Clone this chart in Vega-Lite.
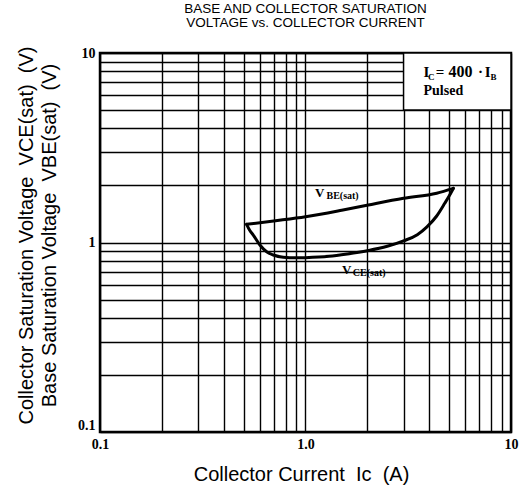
{
  "$schema": "https://vega.github.io/schema/vega-lite/v6.json",
  "width": 411,
  "height": 379,
  "autosize": {"type": "none"},
  "padding": {"left": 100, "top": 53, "right": 17, "bottom": 60},
  "background": "white",
  "config": {
    "view": {"stroke": "black", "strokeWidth": 2.5},
    "text": {"font": "Liberation Serif", "fontWeight": "bold", "color": "black", "align": "left", "baseline": "alphabetic"}
  },
  "title": {
    "text": ["BASE AND COLLECTOR SATURATION", "VOLTAGE vs. COLLECTOR CURRENT"],
    "font": "Liberation Sans",
    "fontSize": 13.5,
    "fontWeight": "normal",
    "lineHeight": 14,
    "offset": 17,
    "anchor": "middle",
    "color": "black"
  },
  "layer": [
    {
      "data": {
        "values": [
          {"series": "VBE", "i": 1, "ic": 0.517, "v": 1.247},
          {"series": "VBE", "i": 2, "ic": 0.7, "v": 1.3},
          {"series": "VBE", "i": 3, "ic": 1.0, "v": 1.368},
          {"series": "VBE", "i": 4, "ic": 1.5, "v": 1.48},
          {"series": "VBE", "i": 5, "ic": 2.02, "v": 1.577},
          {"series": "VBE", "i": 6, "ic": 3.0, "v": 1.71},
          {"series": "VBE", "i": 7, "ic": 4.35, "v": 1.82},
          {"series": "VBE", "i": 8, "ic": 5.24, "v": 1.93},
          {"series": "VCE", "i": 1, "ic": 0.517, "v": 1.247},
          {"series": "VCE", "i": 2, "ic": 0.535, "v": 1.16},
          {"series": "VCE", "i": 3, "ic": 0.557, "v": 1.095},
          {"series": "VCE", "i": 4, "ic": 0.6, "v": 0.97},
          {"series": "VCE", "i": 5, "ic": 0.647, "v": 0.894},
          {"series": "VCE", "i": 6, "ic": 0.697, "v": 0.859},
          {"series": "VCE", "i": 7, "ic": 0.78, "v": 0.836},
          {"series": "VCE", "i": 8, "ic": 0.9, "v": 0.83},
          {"series": "VCE", "i": 9, "ic": 1.0, "v": 0.832},
          {"series": "VCE", "i": 10, "ic": 1.3, "v": 0.845},
          {"series": "VCE", "i": 11, "ic": 1.6, "v": 0.87},
          {"series": "VCE", "i": 12, "ic": 2.0, "v": 0.905},
          {"series": "VCE", "i": 13, "ic": 2.5, "v": 0.955},
          {"series": "VCE", "i": 14, "ic": 3.0, "v": 1.02},
          {"series": "VCE", "i": 15, "ic": 3.5, "v": 1.1},
          {"series": "VCE", "i": 16, "ic": 3.9, "v": 1.21},
          {"series": "VCE", "i": 17, "ic": 4.35, "v": 1.38},
          {"series": "VCE", "i": 18, "ic": 4.76, "v": 1.61},
          {"series": "VCE", "i": 19, "ic": 5.0, "v": 1.76},
          {"series": "VCE", "i": 20, "ic": 5.24, "v": 1.93}
        ]
      },
      "mark": {"type": "line", "color": "black", "strokeWidth": 3, "interpolate": "monotone", "strokeCap": "round", "strokeJoin": "round"},
      "encoding": {
        "x": {
          "field": "ic", "type": "quantitative",
          "scale": {"type": "log", "domain": [0.1, 10], "nice": false},
          "axis": {
            "values": [0.1, 0.2, 0.3, 0.4, 0.5, 0.6, 0.7, 0.8, 0.9, 1, 2, 3, 4, 5, 6, 7, 8, 9, 10],
            "grid": true, "gridColor": "black", "gridWidth": 1.4, "gridOpacity": 1,
            "ticks": false, "domain": false,
            "labelExpr": "datum.value == 1 ? '1.0' : (datum.value == 0.1 ? '0.1' : (datum.value == 10 ? '10' : ''))",
            "labelFont": "Liberation Serif", "labelFontWeight": "bold", "labelFontSize": 14, "labelColor": "black",
            "labelPadding": 5, "labelFlush": false, "labelOverlap": false, "labelBound": false,
            "title": "Collector Current\u00a0\u00a0Ic\u00a0\u00a0(A)",
            "titleFont": "Liberation Sans", "titleFontSize": 20, "titleFontWeight": "normal", "titleColor": "black",
            "titleX": 201, "titleY": 48, "titleBaseline": "alphabetic", "titleAlign": "center"
          }
        },
        "y": {
          "field": "v", "type": "quantitative",
          "scale": {"type": "log", "domain": [0.1, 10], "nice": false},
          "axis": {
            "values": [0.1, 0.2, 0.3, 0.4, 0.5, 0.6, 0.7, 0.8, 0.9, 1, 2, 3, 4, 5, 6, 7, 8, 9, 10],
            "grid": true, "gridColor": "black", "gridWidth": 1.4, "gridOpacity": 1,
            "ticks": false, "domain": false,
            "labelExpr": "datum.value == 1 ? '1' : (datum.value == 0.1 ? '0.1' : (datum.value == 10 ? '10' : ''))",
            "labelFont": "Liberation Serif", "labelFontWeight": "bold", "labelFontSize": 14, "labelColor": "black",
            "labelPadding": 5, "labelFlush": false, "labelOverlap": false, "labelBound": false,
            "labelBaseline": {"condition": {"test": "datum.value < 0.15", "value": "bottom"}, "value": "middle"},
            "title": ["Collector Saturation Voltage\u00a0\u00a0VCE(sat)\u00a0\u00a0(V)", "Base Saturation Voltage\u00a0\u00a0VBE(sat)\u00a0\u00a0(V)"],
            "titleFont": "Liberation Sans", "titleFontSize": 20, "titleFontWeight": "normal", "titleColor": "black",
            "titleAngle": -90, "titleX": -68, "titleY": 182, "titleBaseline": "alphabetic", "titleAlign": "center", "titleLineHeight": 23
          }
        },
        "detail": {"field": "series"},
        "order": {"field": "i", "type": "quantitative"}
      }
    },
    {
      "data": {"values": [{}]},
      "mark": {"type": "rect", "fill": "white", "stroke": "black", "strokeWidth": 1.5},
      "encoding": {"x": {"datum": 3}, "x2": {"datum": 10}, "y": {"datum": 5}, "y2": {"datum": 10}}
    },
    {"data": {"values": [{}]}, "mark": {"type": "text", "text": "V", "fontSize": 13},
     "encoding": {"x": {"datum": 1.112}, "y": {"datum": 1.738}}},
    {"data": {"values": [{}]}, "mark": {"type": "text", "text": "BE(sat)", "fontSize": 10},
     "encoding": {"x": {"datum": 1.265}, "y": {"datum": 1.7}}},
    {"data": {"values": [{}]}, "mark": {"type": "text", "text": "V", "fontSize": 13},
     "encoding": {"x": {"datum": 1.505}, "y": {"datum": 0.682}}},
    {"data": {"values": [{}]}, "mark": {"type": "text", "text": "CE(sat)", "fontSize": 10},
     "encoding": {"x": {"datum": 1.7}, "y": {"datum": 0.668}}},
    {"data": {"values": [{}]}, "mark": {"type": "text", "text": "I", "fontSize": 15},
     "encoding": {"x": {"datum": 3.752}, "y": {"datum": 7.46}}},
    {"data": {"values": [{}]}, "mark": {"type": "text", "text": "C", "fontSize": 9},
     "encoding": {"x": {"datum": 3.946}, "y": {"datum": 7.2}}},
    {"data": {"values": [{}]}, "mark": {"type": "text", "text": "=", "fontSize": 15},
     "encoding": {"x": {"datum": 4.3}, "y": {"datum": 7.46}}},
    {"data": {"values": [{}]}, "mark": {"type": "text", "text": "400", "fontSize": 16},
     "encoding": {"x": {"datum": 4.966}, "y": {"datum": 7.46}}},
    {"data": {"values": [{}]}, "mark": {"type": "text", "text": "·", "fontSize": 15},
     "encoding": {"x": {"datum": 6.9}, "y": {"datum": 7.46}}},
    {"data": {"values": [{}]}, "mark": {"type": "text", "text": "I", "fontSize": 15},
     "encoding": {"x": {"datum": 7.45}, "y": {"datum": 7.46}}},
    {"data": {"values": [{}]}, "mark": {"type": "text", "text": "B", "fontSize": 9},
     "encoding": {"x": {"datum": 7.95}, "y": {"datum": 7.2}}},
    {"data": {"values": [{}]}, "mark": {"type": "text", "text": "Pulsed", "fontSize": 14},
     "encoding": {"x": {"datum": 3.752}, "y": {"datum": 5.997}}}
  ]
}
